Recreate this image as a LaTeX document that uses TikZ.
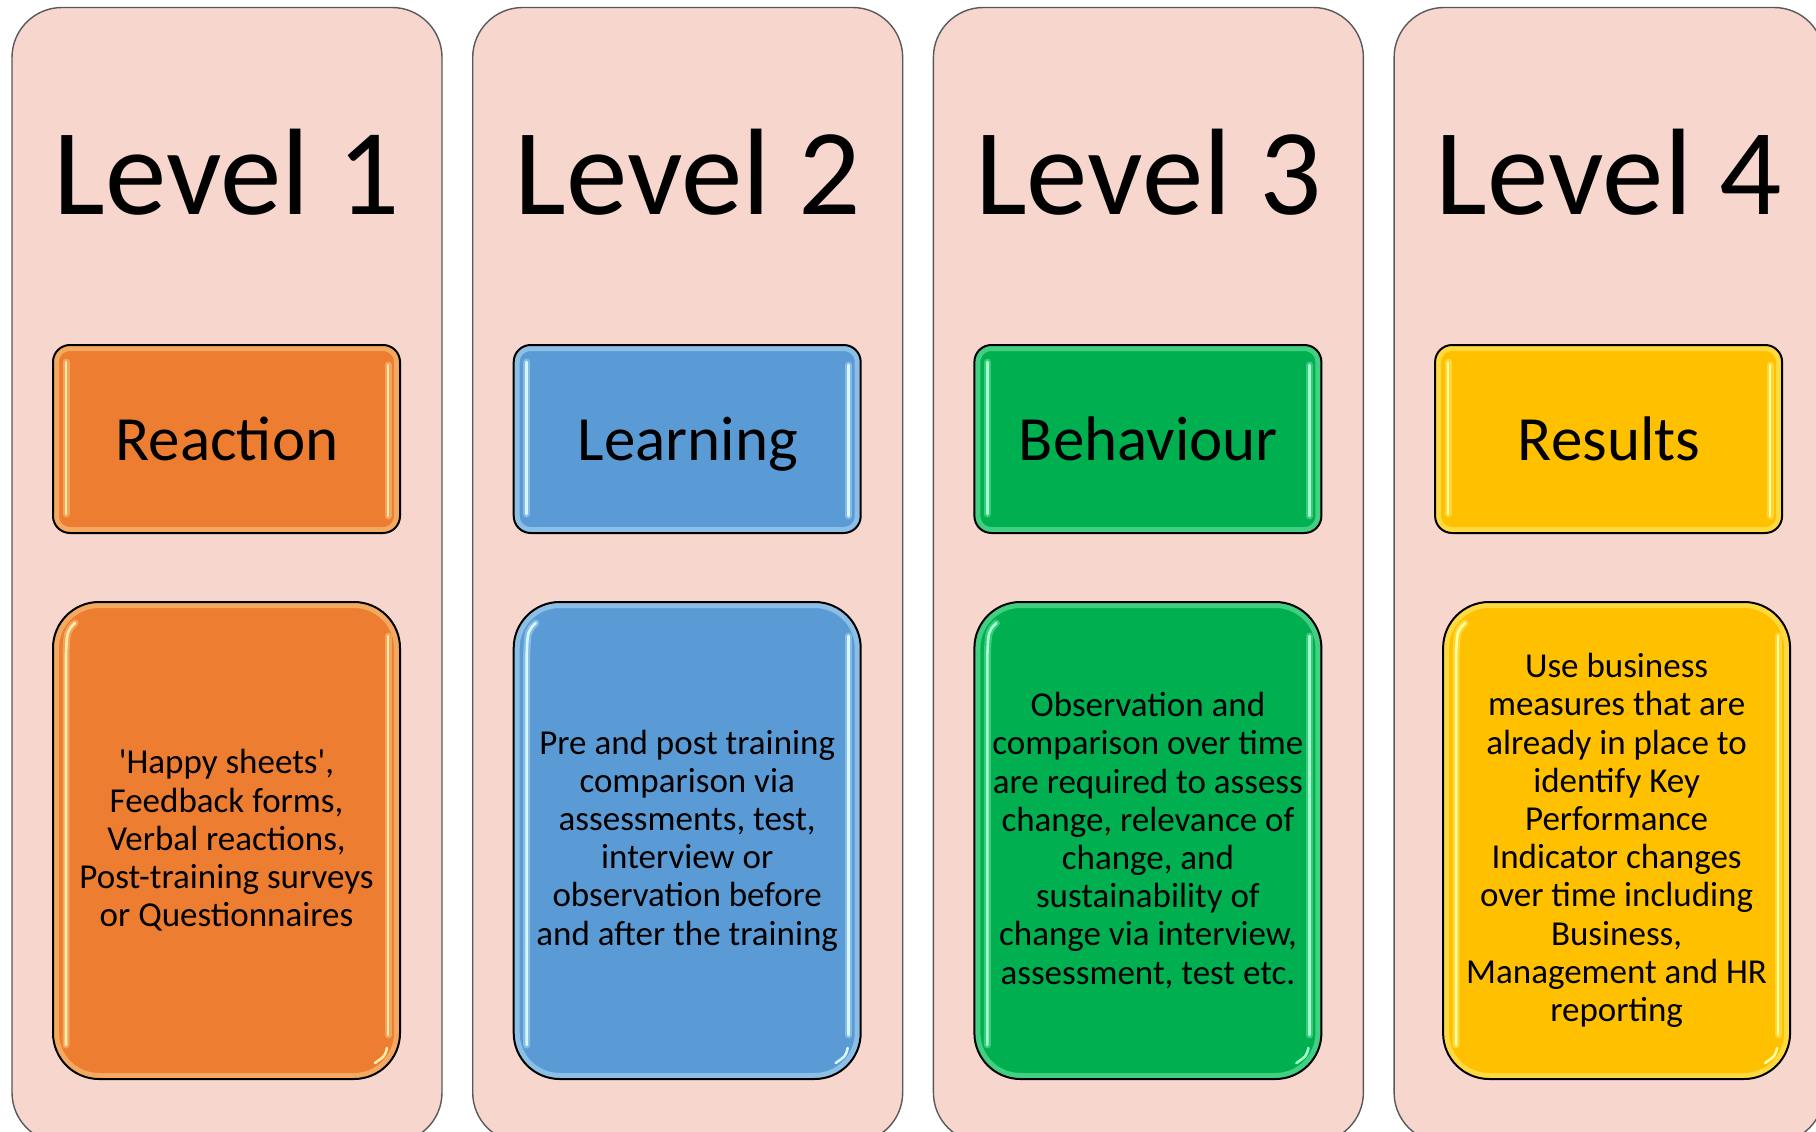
\documentclass[tikz,border=0pt]{standalone}
\usepackage{fontspec}
\setmainfont{Carlito}
\usetikzlibrary{calc}
\definecolor{panelfill}{RGB}{247,215,205}
\definecolor{panelline}{RGB}{89,89,89}
\definecolor{orng}{RGB}{237,125,49}
\definecolor{blu}{RGB}{91,155,213}
\definecolor{grn}{RGB}{0,176,80}
\definecolor{gld}{RGB}{255,192,0}
\definecolor{orngh}{RGB}{255,236,170}
\definecolor{bluh}{RGB}{215,247,255}
\definecolor{grnh}{RGB}{165,255,205}
\definecolor{gldh}{RGB}{255,255,160}
\newcommand\sq{\XeTeXglyph\XeTeXcharglyph"0027\relax}
\tikzset{
  panel/.style={fill=panelfill, draw=panelline, line width=1.4pt, rounded corners=50pt,
    minimum width=430pt, minimum height=1135pt, inner sep=0pt, outer sep=0pt},
  headbox/.style={fill=#1, rounded corners=17pt, minimum width=347pt, minimum height=188pt, inner sep=0pt, outer sep=0pt},
  bodybox/.style={fill=#1, rounded corners=46pt, minimum width=347pt, minimum height=477pt, inner sep=0pt, outer sep=0pt},
  boxline/.style={draw=black, line width=2pt},
  glowring/.style={draw=#1, line width=12pt, opacity=0.4},
  hlsoft/.style={draw=#1, line width=7pt, opacity=0.35, line cap=round},
  hlhard/.style={draw=#1, line width=2.6pt, line cap=round},
  titletext/.style={anchor=base, text=black, font=\fontsize{123}{145}\selectfont},
  labeltext/.style={anchor=base, text=black, font=\fontsize{63}{75}\selectfont},
  bodytext/.style={align=center, text=black, inner sep=0pt, font=\fontsize{35}{38.2}\selectfont}
}
% #1 index, #2 panel left, #3 body box offset, #4 colour, #5 highlight, #6 title, #7 label, #8 body
\newcommand\levelcol[8]{%
  \node[panel] (p#1) at ({#2+215},575) {};
  \node[titletext] (lv#1) at ({#2+215},214) {#6};
  % heading box
  \node[headbox=#4] (t#1) at ({#2+214.5},439) {};
  \begin{scope}
    \clip[rounded corners=17pt] (t#1.north west) rectangle (t#1.south east);
    \draw[glowring=#5, rounded corners=17pt] (t#1.north west) rectangle (t#1.south east);
  \end{scope}
  \draw[hlsoft=#5] ($(t#1.north west)+(13,17)$) -- ($(t#1.south west)+(13,-19)$);
  \draw[hlhard=#5] ($(t#1.north west)+(13,17)$) -- ($(t#1.south west)+(13,-19)$);
  \draw[hlsoft=#5] ($(t#1.north east)+(-12,20)$) -- ($(t#1.south east)+(-12,-17)$);
  \draw[hlhard=#5] ($(t#1.north east)+(-12,20)$) -- ($(t#1.south east)+(-12,-17)$);
  \draw[boxline, rounded corners=17pt] (t#1.north west) rectangle (t#1.south east);
  \node[labeltext] (lb#1) at ({#2+215},460) {#7};
  % body box
  \node[bodybox=#4] (b#1) at ({#2+214.5+#3},840.5) {};
  \begin{scope}
    \clip[rounded corners=46pt] (b#1.north west) rectangle (b#1.south east);
    \draw[glowring=#5, rounded corners=46pt] (b#1.north west) rectangle (b#1.south east);
  \end{scope}
  \draw[hlsoft=#5] ($(b#1.north west)+(22,21)$) .. controls ($(b#1.north west)+(14,29)$) .. ($(b#1.north west)+(13,52)$) -- ($(b#1.south west)+(13,-34)$);
  \draw[hlhard=#5] ($(b#1.north west)+(22,21)$) .. controls ($(b#1.north west)+(14,29)$) .. ($(b#1.north west)+(13,52)$) -- ($(b#1.south west)+(13,-34)$);
  \draw[hlsoft=#5] ($(b#1.north east)+(-12,34)$) -- ($(b#1.south east)+(-12,-44)$);
  \draw[hlhard=#5] ($(b#1.north east)+(-12,34)$) -- ($(b#1.south east)+(-12,-44)$);
  \draw[hlhard=#5] ($(b#1.south east)+(-13,-31)$) .. controls ($(b#1.south east)+(-15,-23)$) .. ($(b#1.south east)+(-25,-16)$);
  \draw[boxline, rounded corners=46pt] (b#1.north west) rectangle (b#1.south east);
  \node[bodytext] (tx#1) at (b#1.center) {#8};
}
\begin{document}
\begin{tikzpicture}[x=1pt, y=-1pt]
  \useasboundingbox (0,0) rectangle (1816,1132);
  \clip (0,0) rectangle (1816,1132);
  \fill[white] (0,0) rectangle (1816,1132);
  \levelcol{1}{12}{0}{orng}{orngh}{Level 1}{Reaction}%
    {\sq Happy sheets\sq,\\Feedback forms,\\Verbal reactions,\\Post-training surveys\\or Questionnaires}
  \levelcol{2}{472.7}{0}{blu}{bluh}{Level 2}{Learning}%
    {Pre and post training\\comparison via\\assessments, test,\\interview or\\observation before\\and after the training}
  \levelcol{3}{933.4}{0}{grn}{grnh}{Level 3}{Behaviour}%
    {Observation and\\comparison over time\\are required to assess\\change, relevance of\\change, and\\sustainability of\\change via interview,\\assessment, test etc.}
  \levelcol{4}{1394.1}{8}{gld}{gldh}{Level 4}{Results}%
    {Use business\\measures that are\\already in place to\\identify Key\\Performance\\Indicator changes\\over time including\\Business,\\Management and HR\\reporting}
\end{tikzpicture}
\end{document}
